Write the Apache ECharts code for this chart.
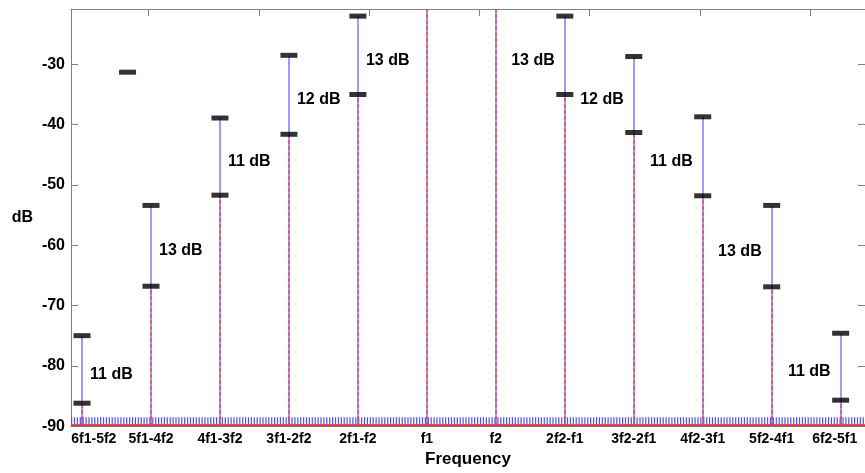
<!DOCTYPE html>
<html>
<head>
<meta charset="utf-8">
<script src="https://cdn.jsdelivr.net/npm/echarts@6/dist/echarts.min.js"></script>
<style>html,body{margin:0;padding:0;background:#fff;overflow:hidden}#c{width:865px;height:473px}</style>
</head>
<body>
<div id="c"></div>
<script>
// ---- data ----
const categories = ['6f1-5f2','5f1-4f2','4f1-3f2','3f1-2f2','2f1-f2','f1','f2','2f2-f1','3f2-2f1','4f2-3f1','5f2-4f1','6f2-5f1'];
// blue (upper) level per category, dB  (f1/f2 are off-scale)
const upperDb = [-75.0, -53.4, -38.9, -28.5, -22.0, 0, 0, -22.0, -28.7, -38.7, -53.4, -74.6];
// red dashed (lower) level per category, dB
const lowerDb = [-86.2, -66.8, -51.7, -41.6, -35.0, 0, 0, -35.0, -41.3, -51.8, -66.9, -85.7];
// whether a category carries black level markers
const hasMarker = [true, true, true, true, true, false, false, true, true, true, true, true];
// difference annotations
const diffLabels = ['11 dB','13 dB','11 dB','12 dB','13 dB','','','13 dB','12 dB','11 dB','13 dB','11 dB'];
// stray marker (x in category units, dB)
const strayMarker = [[0.66, -31.3]];
// noise floor levels
const noiseBlueDb = -89.18;
const noiseRedDb = -89.84;
const stemBaseDb = -90;
// axis ticks / label anchors
const yTicks = [-90, -80, -70, -60, -50, -40, -30];
const topTicks = [0.965, 2.565, 4.164, 5.764, 7.349, 8.963, 10.562];
const labelAnchors = [0.171, 1, 2, 3, 4, 5, 6, 7, 8, 9, 10, 10.914];

const X_MIN = -0.16, X_MAX = 11.353;
const Y_MIN = -90, Y_MAX = -20.82;

const stemData = categories.map((c, i) => [i, upperDb[i], lowerDb[i]]);
const markerData = [];
categories.forEach((c, i) => {
  if (hasMarker[i]) { markerData.push([i, upperDb[i]]); markerData.push([i, lowerDb[i]]); }
});
const labelData = categories.map((c, i) => [i, upperDb[i], lowerDb[i], diffLabels[i]]).filter(d => d[3]);

const BLUE = '#5a5aff', RED = '#ff3a3a', GRAY = '#808080';
const FONT = 'Liberation Sans, Arial, sans-serif';

function stemRenderer(which, color, dash) {
  return function (params, api) {
    const x = api.value(0);
    const v = api.value(which);
    const p0 = api.coord([x, stemBaseDb]);
    const p1 = api.coord([x, v]);
    const top = params.coordSys.y;
    const xx = Math.round(p0[0]);
    return {
      type: 'line',
      shape: { x1: xx, y1: p0[1], x2: xx, y2: Math.max(p1[1], top) },
      style: { stroke: color, lineWidth: 1.2, lineDash: dash }
    };
  };
}

const chart = echarts.init(document.getElementById('c'), null, { renderer: 'canvas' });
chart.setOption({
  animation: false,
  backgroundColor: '#fff',
  grid: { left: 71, right: -6, top: 9, bottom: 42 },
  xAxis: [{
    type: 'value', min: X_MIN, max: X_MAX, position: 'bottom',
    name: 'Frequency', nameLocation: 'middle', nameGap: 24,
    nameTextStyle: { fontFamily: FONT, fontWeight: 'bold', fontSize: 17, color: '#000' },
    axisLine: { show: true, lineStyle: { color: GRAY } },
    axisTick: { show: false },
    splitLine: { show: false },
    axisLabel: {
      customValues: labelAnchors,
      formatter: (v) => categories[labelAnchors.reduce((b, a, i) => Math.abs(a - v) < Math.abs(labelAnchors[b] - v) ? i : b, 0)],
      fontFamily: FONT, fontWeight: 'bold', fontSize: 14, color: '#000', margin: 6
    }
  }, {
    type: 'value', min: X_MIN, max: X_MAX, position: 'top',
    axisLine: { show: true, onZero: false, lineStyle: { color: GRAY } },
    axisTick: { show: true, inside: true, length: 7, customValues: topTicks, lineStyle: { color: GRAY } },
    axisLabel: { show: false },
    splitLine: { show: false }
  }],
  yAxis: [{
    type: 'value', min: Y_MIN, max: Y_MAX, position: 'left',
    name: 'dB', nameLocation: 'middle', nameRotate: 0, nameGap: 38,
    nameTextStyle: { fontFamily: FONT, fontWeight: 'bold', fontSize: 16, color: '#000', align: 'right' },
    axisLine: { show: true, onZero: false, lineStyle: { color: GRAY } },
    axisTick: { show: true, inside: true, length: 7, customValues: yTicks, lineStyle: { color: GRAY } },
    axisLabel: { customValues: yTicks, fontFamily: FONT, fontWeight: 'bold', fontSize: 16, color: '#000', margin: 6 },
    splitLine: { show: false }
  }, {
    type: 'value', min: Y_MIN, max: Y_MAX, position: 'right',
    axisLine: { show: true, onZero: false, lineStyle: { color: GRAY } },
    axisTick: { show: true, inside: true, length: 7, customValues: yTicks, lineStyle: { color: GRAY } },
    axisLabel: { show: false },
    splitLine: { show: false }
  }],
  series: [
    {
      type: 'line', name: 'noiseBlue', xAxisIndex: 0, yAxisIndex: 0, symbol: 'none', silent: true,
      data: [[X_MIN, noiseBlueDb], [X_MAX, noiseBlueDb]],
      lineStyle: { color: '#4f4fff', width: 8, type: [1.2, 1.7] }, z: 2
    },
    {
      type: 'line', name: 'noiseRed', xAxisIndex: 0, yAxisIndex: 0, symbol: 'none', silent: true,
      data: [[X_MIN, noiseRedDb], [X_MAX, noiseRedDb]],
      lineStyle: { color: '#e03030', width: 2 }, z: 3
    },
    {
      type: 'custom', name: 'blueStems', xAxisIndex: 0, yAxisIndex: 0, clip: true,
      data: stemData, renderItem: stemRenderer(1, BLUE, null), z: 4
    },
    {
      type: 'custom', name: 'redStems', xAxisIndex: 0, yAxisIndex: 0, clip: true,
      data: stemData, renderItem: stemRenderer(2, RED, [4, 2]), z: 5
    },
    {
      type: 'scatter', name: 'markers', xAxisIndex: 0, yAxisIndex: 0,
      symbol: 'rect', symbolSize: [17, 5], itemStyle: { color: '#000' },
      data: markerData.concat(strayMarker), z: 6
    },
    {
      type: 'custom', name: 'diffLabels', xAxisIndex: 0, yAxisIndex: 0,
      data: labelData, z: 7,
      renderItem: function (params, api) {
        const i = api.value(0);
        const pu = api.coord([i, api.value(1)]);
        const pl = api.coord([i, api.value(2)]);
        const right = i < 5;
        const txt = labelData[params.dataIndex][3];
        return {
          type: 'text',
          style: {
            x: pu[0] + (right ? 8 : -10),
            y: (pu[1] + pl[1]) / 2 + 5,
            text: txt,
            align: right ? 'left' : 'right',
            verticalAlign: 'middle',
            fill: '#000',
            font: 'bold 16px ' + FONT
          }
        };
      }
    }
  ]
});
</script>
</body>
</html>
